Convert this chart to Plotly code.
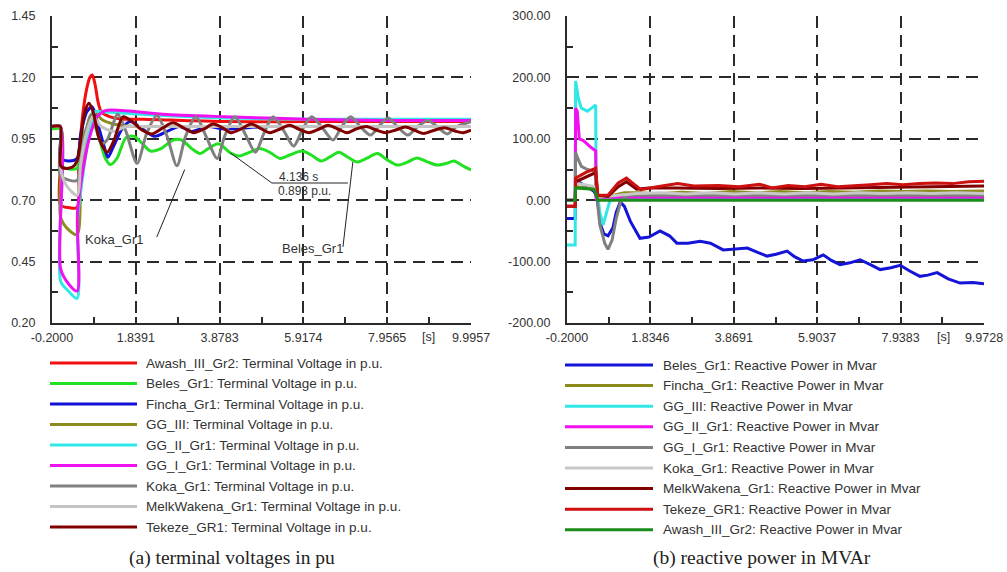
import plotly.graph_objects as go

W, H = 1007, 572

# ---------------- (a) terminal voltages in p.u. ----------------
volt_names = [
    "Awash_III_Gr2: Terminal Voltage in p.u.",
    "Beles_Gr1: Terminal Voltage in p.u.",
    "Fincha_Gr1: Terminal Voltage in p.u.",
    "GG_III: Terminal Voltage in p.u.",
    "GG_II_Gr1: Terminal Voltage in p.u.",
    "GG_I_Gr1: Terminal Voltage in p.u.",
    "Koka_Gr1: Terminal Voltage in p.u.",
    "MelkWakena_Gr1: Terminal Voltage in p.u.",
    "Tekeze_GR1: Terminal Voltage in p.u.",
]
volt_colors = ["#f01010", "#22e022", "#1010d8", "#8c8c1c", "#30e8e8",
               "#f010f0", "#808080", "#c4c4c4", "#800000"]

awash_t = [-0.2, 0.0, 0.01, 0.2, 0.41, 0.45, 0.55, 0.64, 0.72, 0.78, 0.85, 0.92, 1.0, 1.2, 1.5, 2.0, 3.0, 4.0, 6.0, 8.0, 9.9957]
awash_v = [1.0, 1.0, 0.68, 0.67, 0.67, 0.85, 1.05, 1.15, 1.20, 1.21, 1.17, 1.10, 1.06, 1.04, 1.03, 1.03, 1.025, 1.02, 1.02, 1.02, 1.02]

beles_t = [-0.2, 0.0, 0.01, 0.41, 0.45, 0.6, 0.8, 0.95, 1.1, 1.22, 1.38, 1.6, 1.8, 2.0, 2.2, 2.45, 2.75, 2.95, 3.2, 3.4, 3.6,
           3.85, 4.136, 4.35, 4.6, 4.85, 5.1, 5.35, 5.6, 5.88, 6.1, 6.35, 6.55, 6.78, 7.0, 7.22, 7.45, 7.72, 7.95, 8.2,
           8.45, 8.68, 8.95, 9.17, 9.4, 9.58, 9.8, 9.9957]
beles_v = [0.99, 0.99, 0.84, 0.83, 0.90, 0.98, 1.01, 0.95, 0.87, 0.845, 0.87, 0.955, 0.96, 0.93, 0.90, 0.91, 0.945, 0.945,
           0.91, 0.89, 0.91, 0.93, 0.893, 0.88, 0.895, 0.91, 0.895, 0.87, 0.885, 0.90, 0.885, 0.86, 0.875, 0.895, 0.875,
           0.856, 0.87, 0.89, 0.865, 0.843, 0.855, 0.872, 0.855, 0.843, 0.85, 0.86, 0.84, 0.823]

fincha_t = [-0.2, 0.0, 0.01, 0.2, 0.41, 0.5, 0.65, 0.78, 0.9, 1.05, 1.16, 1.3, 1.5, 1.7, 2.0, 2.3, 2.6, 2.9, 3.2, 3.6, 4.0, 5.0, 6.0, 7.0, 8.0, 9.0, 9.9957]
fincha_v = [1.0, 1.0, 0.87, 0.86, 0.87, 0.97, 1.06, 1.08, 1.02, 0.93, 0.875, 0.92, 0.99, 1.02, 0.99, 0.96, 0.98, 1.0, 0.98, 1.0, 0.99, 1.0, 1.0, 1.0, 1.0, 1.0, 1.0]

gg3_t = [-0.2, 0.0, 0.01, 0.2, 0.41, 0.5, 0.6, 0.72, 0.85, 1.0, 1.3, 1.8, 2.5, 4.0, 6.0, 8.0, 9.9957]
gg3_v = [1.0, 1.0, 0.63, 0.58, 0.56, 0.75, 0.92, 1.04, 1.06, 1.03, 1.01, 1.0, 1.0, 1.0, 1.0, 1.0, 1.0]

gg2_t = [-0.2, 0.0, 0.01, 0.2, 0.41, 0.42, 0.55, 0.7, 0.85, 1.0, 1.5, 2.5, 4.0, 6.0, 8.0, 9.9957]
gg2_v = [1.0, 1.0, 0.37, 0.33, 0.30, 0.62, 0.80, 0.97, 1.06, 1.06, 1.055, 1.045, 1.035, 1.03, 1.03, 1.03]

gg1_t = [-0.2, 0.0, 0.01, 0.2, 0.41, 0.42, 0.55, 0.72, 0.9, 1.1, 1.5, 2.5, 4.0, 6.0, 8.0, 9.9957]
gg1_v = [1.0, 1.0, 0.42, 0.36, 0.33, 0.65, 0.82, 0.96, 1.04, 1.065, 1.065, 1.05, 1.04, 1.03, 1.025, 1.025]

koka_t = [-0.2, 0.0, 0.01, 0.41, 0.5, 0.65, 0.78, 0.9, 1.0, 1.14, 1.4, 1.6, 1.87, 2.1, 2.35, 2.6, 2.84, 3.05, 3.3, 3.55,
          3.82, 4.0, 4.25, 4.5, 4.75, 4.95, 5.18, 5.45, 5.68, 5.9, 6.12, 6.4, 6.64, 6.85, 7.07, 7.3, 7.55, 7.75, 7.98,
          8.2, 8.46, 8.7, 8.95, 9.2, 9.42, 9.65, 9.9957]
koka_v = [1.0, 1.0, 0.80, 0.78, 0.88, 1.0, 1.05, 0.98, 0.93, 0.945, 1.05, 0.98, 0.85, 0.97, 1.045, 0.96, 0.84, 0.96, 1.04,
          0.96, 0.87, 0.96, 1.04, 0.97, 0.895, 0.97, 1.04, 0.98, 0.92, 0.99, 1.04, 0.99, 0.945, 1.0, 1.04, 1.0, 0.965,
          1.0, 1.035, 1.0, 0.965, 1.0, 1.025, 0.995, 0.97, 1.0, 1.02]

melk_t = [-0.2, 0.0, 0.01, 0.15, 0.41, 0.5, 0.65, 0.8, 1.0, 1.3, 1.6, 2.0, 4.0, 6.0, 8.0, 9.9957]
melk_v = [1.0, 1.0, 0.83, 0.76, 0.72, 0.85, 0.98, 1.04, 1.0, 0.98, 1.0, 1.0, 1.0, 1.0, 1.0, 1.0]

tekeze_t = [-0.2, 0.0, 0.01, 0.1, 0.3, 0.41, 0.5, 0.6, 0.7, 0.8, 0.95, 1.14, 1.3, 1.53, 1.75, 2.0, 2.23, 2.5, 2.74, 3.0,
            3.25, 3.5, 3.72, 3.95, 4.15, 4.4, 4.65, 4.9, 5.1, 5.35, 5.58, 5.8, 6.05, 6.3, 6.52, 6.75, 6.98, 7.2, 7.45,
            7.7, 7.92, 8.15, 8.4, 8.62, 8.85, 9.1, 9.35, 9.6, 9.8, 9.9957]
tekeze_v = [1.0, 1.0, 0.84, 0.83, 0.835, 0.86, 0.95, 1.06, 1.095, 1.06, 0.95, 0.895, 0.94, 1.04, 1.02, 0.985, 0.97, 0.995,
            1.015, 0.995, 0.975, 0.99, 1.01, 0.995, 0.975, 0.99, 1.01, 0.99, 0.975, 0.99, 1.005, 0.99, 0.975, 0.99, 1.005,
            0.99, 0.975, 0.99, 1.0, 0.985, 0.975, 0.985, 0.998, 0.985, 0.972, 0.985, 0.995, 0.982, 0.975, 0.985]

volt_series = [(awash_t, awash_v), (beles_t, beles_v), (fincha_t, fincha_v), (gg3_t, gg3_v), (gg2_t, gg2_v),
               (gg1_t, gg1_v), (koka_t, koka_v), (melk_t, melk_v), (tekeze_t, tekeze_v)]

volt_xticks = [-0.2, 1.8391, 3.8783, 5.9174, 7.9565, 9.9957]
volt_xlabels = ["-0.2000", "1.8391", "3.8783", "5.9174", "7.9565", "9.9957"]
volt_yticks = [0.20, 0.45, 0.70, 0.95, 1.20, 1.45]

# ---------------- (b) reactive power in Mvar ----------------
q_names = [
    "Beles_Gr1: Reactive Power in Mvar",
    "Fincha_Gr1: Reactive Power in Mvar",
    "GG_III: Reactive Power in Mvar",
    "GG_II_Gr1: Reactive Power in Mvar",
    "GG_I_Gr1: Reactive Power in Mvar",
    "Koka_Gr1: Reactive Power in Mvar",
    "MelkWakena_Gr1: Reactive Power in Mvar",
    "Tekeze_GR1: Reactive Power in Mvar",
    "Awash_III_Gr2: Reactive Power in Mvar",
]
q_colors = ["#1414d8", "#8c8c1c", "#30e8e8", "#f010f0", "#808080",
            "#c8c8c8", "#800000", "#cc1010", "#1a8c1a"]

q_beles_t = [-0.2, 0.0, 0.01, 0.2, 0.45, 0.5, 0.55, 0.62, 0.7, 0.8, 0.92, 1.0, 1.1, 1.2, 1.35, 1.58, 1.8, 2.07, 2.3,
             2.48, 2.75, 3.05, 3.3, 3.61, 3.9, 4.2, 4.45, 4.68, 4.9, 5.17, 5.35, 5.56, 5.8, 6.05, 6.25, 6.46, 6.7,
             6.95, 7.2, 7.44, 7.7, 7.93, 8.15, 8.41, 8.6, 8.83, 9.1, 9.39, 9.7, 9.9728]
q_beles_v = [-30, -30, 33, 25, 15, 10, -5, -40, -55, -58, -45, -20, -3, -10, -35, -62, -60, -50, -58, -70, -70, -67,
             -70, -81, -80, -78, -85, -91, -88, -83, -92, -99, -97, -89, -98, -105, -102, -97, -105, -113, -110, -106,
             -115, -124, -122, -118, -128, -135, -134, -136]

q_fincha_t = [-0.2, 0.0, 0.01, 0.5, 0.55, 0.8, 1.2, 1.6, 2.0, 2.6, 3.2, 3.8, 4.4, 5.0, 5.6, 6.2, 6.8, 7.4, 8.0, 8.6, 9.2, 9.9728]
q_fincha_v = [0, 0, 22, 18, 5, 6, 12, 12, 10, 13, 11, 14, 12, 14, 12, 14, 13, 15, 14, 15, 14, 15]

q_gg3_t = [-0.2, 0.0, 0.01, 0.08, 0.15, 0.3, 0.4, 0.5, 0.51, 0.6, 0.68, 0.75, 0.85, 1.0, 2.0, 5.0, 9.9728]
q_gg3_v = [-73, -73, 194, 165, 150, 145, 150, 155, 30, -20, -40, -25, 0, 3, 3, 3, 3]

q_gg2_t = [-0.2, 0.0, 0.01, 0.05, 0.1, 0.2, 0.35, 0.5, 0.51, 0.6, 1.0, 5.0, 9.9728]
q_gg2_v = [0, 0, 150, 145, 100, 97, 88, 80, 0, 5, 5, 5, 5]

q_gg1_t = [-0.2, 0.0, 0.01, 0.05, 0.15, 0.3, 0.5, 0.51, 0.6, 0.72, 0.8, 0.9, 1.0, 1.12, 1.3, 2.0, 5.0, 9.9728]
q_gg1_v = [0, 0, 78, 70, 55, 50, 47, 20, -40, -70, -80, -65, -30, 0, 8, 8, 8, 8]

q_koka_t = [-0.2, 0.0, 0.01, 0.5, 0.55, 1.0, 1.5, 2.1, 2.7, 3.3, 3.9, 4.5, 5.1, 5.7, 6.3, 6.9, 7.5, 8.1, 8.7, 9.3, 9.9728]
q_koka_v = [0, 0, 28, 22, 5, 8, 11, 12, 10, 12, 10, 12, 10, 12, 10, 12, 11, 12, 11, 12, 11]

q_melk_t = [-0.2, 0.0, 0.01, 0.25, 0.5, 0.55, 0.8, 1.05, 1.25, 1.5, 1.8, 2.5, 3.5, 4.5, 5.5, 6.5, 7.5, 8.5, 9.9728]
q_melk_v = [-10, -10, 30, 38, 45, 8, 6, 22, 30, 18, 20, 20, 19, 20, 19, 20, 21, 22, 23]

q_tekeze_t = [-0.2, 0.0, 0.01, 0.25, 0.5, 0.55, 0.8, 1.05, 1.25, 1.4, 1.6, 2.0, 2.5, 2.9, 3.5, 4.0, 4.5, 4.8, 5.2, 5.6,
              6.0, 6.4, 6.8, 7.2, 7.6, 8.0, 8.4, 8.8, 9.2, 9.6, 9.9728]
q_tekeze_v = [-10, -10, 36, 45, 52, 8, 8, 28, 36, 28, 17, 22, 27, 23, 24, 22, 26, 20, 24, 22, 26, 22, 23, 25, 27, 25,
              27, 28, 27, 30, 31]

q_awash_t = [-0.2, 0.0, 0.01, 0.45, 0.5, 0.55, 1.0, 5.0, 9.9728]
q_awash_v = [0, 0, 20, 18, 12, 0, 0, 0, 0]

q_series = [(q_beles_t, q_beles_v), (q_fincha_t, q_fincha_v), (q_gg3_t, q_gg3_v), (q_gg2_t, q_gg2_v),
            (q_gg1_t, q_gg1_v), (q_koka_t, q_koka_v), (q_melk_t, q_melk_v), (q_tekeze_t, q_tekeze_v),
            (q_awash_t, q_awash_v)]

q_xticks = [-0.2, 1.8346, 3.8691, 5.9037, 7.9383, 9.9728]
q_xlabels = ["-0.2000", "1.8346", "3.8691", "5.9037", "7.9383", "9.9728"]
q_yticks = [-200, -100, 0, 100, 200, 300]

# ---------------- figure ----------------
fig = go.Figure()

for (t, v), c in zip(volt_series, volt_colors):
    fig.add_trace(go.Scatter(x=t, y=v, mode="lines", xaxis="x", yaxis="y",
                             line=dict(color=c, width=3, shape="spline", smoothing=0.8),
                             showlegend=False, hoverinfo="skip"))

for (t, v), c in zip(q_series, q_colors):
    fig.add_trace(go.Scatter(x=t, y=v, mode="lines", xaxis="x2", yaxis="y2",
                             line=dict(color=c, width=3),
                             showlegend=False, hoverinfo="skip"))

TICKFONT = dict(family="Liberation Sans, Arial, sans-serif", size=12.5, color="#333333")
GRID = dict(showgrid=True, gridcolor="#2a2a2a", gridwidth=1.6, griddash="12px,7px",
            showline=True, linecolor="#2a2a2a", linewidth=2, zeroline=False,
            ticks="inside", ticklen=6, tickcolor="#2a2a2a", tickwidth=1.5,
            tickfont=TICKFONT, mirror=False, automargin=False)


def mids(vals):
    return [(a + b) / 2 for a, b in zip(vals[:-1], vals[1:])]


ydom = [1 - 323 / H, 1 - 16 / H]
fig.update_layout(
    width=W, height=H, margin=dict(l=0, r=0, t=0, b=0, autoexpand=False),
    paper_bgcolor="white", plot_bgcolor="white", showlegend=False,
    xaxis=dict(domain=[52 / W, 471 / W], range=[-0.2, 9.9957], tickmode="array",
               tickvals=volt_xticks, ticktext=volt_xlabels, anchor="y", ticklabelstandoff=2,
               minor=dict(tickvals=mids(volt_xticks), ticks="inside", ticklen=6, tickcolor="#2a2a2a",
                          showgrid=False), **GRID),
    yaxis=dict(domain=ydom, range=[0.20, 1.45], tickmode="array", tickvals=volt_yticks,
               ticktext=[f"{v:.2f}" for v in volt_yticks], anchor="x", ticklabelstandoff=12,
               minor=dict(tickvals=mids(volt_yticks), ticks="inside", ticklen=6, tickcolor="#2a2a2a",
                          showgrid=False), **GRID),
    xaxis2=dict(domain=[567 / W, 984 / W], range=[-0.2, 9.9728], tickmode="array",
                tickvals=q_xticks, ticktext=q_xlabels, anchor="y2", ticklabelstandoff=2,
                minor=dict(tickvals=mids(q_xticks), ticks="inside", ticklen=6, tickcolor="#2a2a2a",
                           showgrid=False), **GRID),
    yaxis2=dict(domain=ydom, range=[-200, 300], tickmode="array", tickvals=q_yticks,
                ticktext=[f"{v:.2f}" for v in q_yticks], anchor="x2", ticklabelstandoff=12,
                minor=dict(tickvals=mids(q_yticks), ticks="inside", ticklen=6, tickcolor="#2a2a2a",
                           showgrid=False), **GRID),
)

shapes = []
annots = []

# time unit labels between the last two ticks
for xc in (428, 943):
    annots.append(dict(text="[s]", x=xc / W, y=1 - 337 / H, xref="paper", yref="paper",
                       showarrow=False, font=TICKFONT, xanchor="center", yanchor="middle"))

# curve markers on panel (a)
LBL = dict(family="Liberation Sans, Arial, sans-serif", size=13, color="#333333")
VAL = dict(family="Liberation Sans, Arial, sans-serif", size=12, color="#333333")
annots.append(dict(text="Koka_Gr1", x=1.33, y=0.538, xref="x", yref="y", showarrow=False, font=LBL))
shapes.append(dict(type="line", xref="x", yref="y", x0=2.35, y0=0.55, x1=3.03, y1=0.825,
                   line=dict(color="#222222", width=1)))
annots.append(dict(text="Beles_Gr1", x=6.13, y=0.505, xref="x", yref="y", showarrow=False, font=LBL))
shapes.append(dict(type="line", xref="x", yref="y", x0=6.88, y0=0.51, x1=7.12, y1=0.855,
                   line=dict(color="#222222", width=1)))
# value readout at t = 4.136 s
shapes.append(dict(type="line", xref="x", yref="y", x0=4.136, y0=0.893, x1=5.15, y1=0.77,
                   line=dict(color="#222222", width=1)))
shapes.append(dict(type="line", xref="x", yref="y", x0=5.15, y0=0.77, x1=7.0, y1=0.77,
                   line=dict(color="#222222", width=1)))
annots.append(dict(text="4.136 s", x=5.81, y=0.796, xref="x", yref="y", showarrow=False, font=VAL))
annots.append(dict(text="0.893 p.u.", x=5.95, y=0.738, xref="x", yref="y", showarrow=False, font=VAL))

# legends drawn below each panel
LEGFONT = dict(family="Liberation Sans, Arial, sans-serif", size=13.5, color="#333333")


def legend(names, colors, x0, x1, xt, y_first, step):
    for i, (n, c) in enumerate(zip(names, colors)):
        yy = 1 - (y_first + step * i) / H
        shapes.append(dict(type="line", xref="paper", yref="paper", x0=x0 / W, x1=x1 / W, y0=yy, y1=yy,
                           line=dict(color=c, width=3)))
        annots.append(dict(text=n, x=xt / W, y=yy, xref="paper", yref="paper", showarrow=False,
                           xanchor="left", yanchor="middle", font=LEGFONT))


legend(volt_names, volt_colors, 50, 137, 144, 363, 20.5)
legend(q_names, q_colors, 565, 653, 661, 365, 20.6)

CAP = dict(family="Liberation Serif, Times New Roman, serif", size=19.5, color="#222222")
annots.append(dict(text="(a) terminal voltages in pu", x=232 / W, y=1 - 558 / H, xref="paper", yref="paper",
                   showarrow=False, font=CAP, xanchor="center", yanchor="middle"))
annots.append(dict(text="(b) reactive power in MVAr", x=762 / W, y=1 - 558 / H, xref="paper", yref="paper",
                   showarrow=False, font=CAP, xanchor="center", yanchor="middle"))

fig.update_layout(shapes=shapes, annotations=annots)
fig.write_html("out.html")
